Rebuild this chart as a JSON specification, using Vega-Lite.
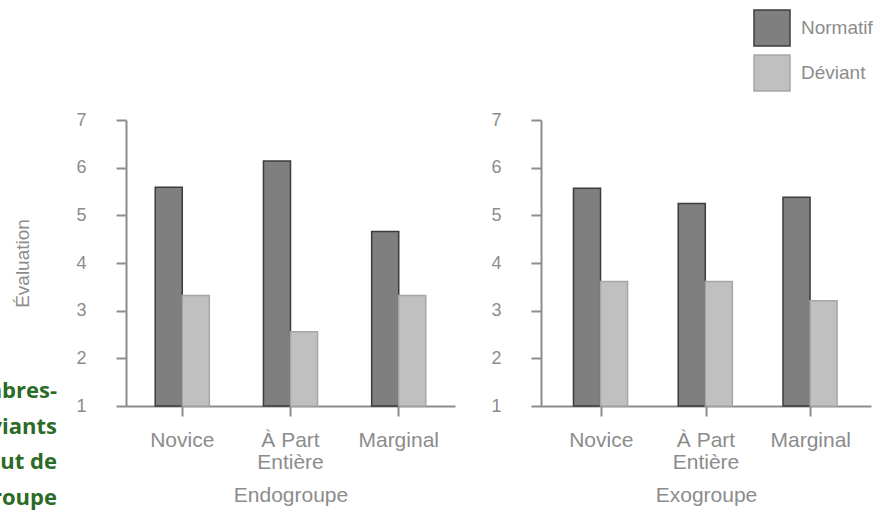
{
  "$schema": "https://vega.github.io/schema/vega-lite/v6.json",
  "autosize": "none",
  "padding": {"left": 126, "top": 120, "right": 755, "bottom": 392},
  "title": {
    "text": ["Membres-", "déviants", "au statut de", "groupe"],
    "orient": "top",
    "anchor": "start",
    "frame": "group",
    "align": "right",
    "baseline": "alphabetic",
    "offset": 0,
    "dx": -69,
    "dy": 518,
    "font": "Open Sans",
    "fontSize": 22,
    "fontWeight": "bold",
    "color": "#2b6b26",
    "lineHeight": 35.7
  },
  "data": {
    "values": [
      {"groupe": "Endogroupe", "statut": "Novice", "type": "Normatif", "evaluation": 5.59},
      {"groupe": "Endogroupe", "statut": "Novice", "type": "Déviant", "evaluation": 3.32},
      {"groupe": "Endogroupe", "statut": "À Part Entière", "type": "Normatif", "evaluation": 6.14},
      {"groupe": "Endogroupe", "statut": "À Part Entière", "type": "Déviant", "evaluation": 2.56},
      {"groupe": "Endogroupe", "statut": "Marginal", "type": "Normatif", "evaluation": 4.66},
      {"groupe": "Endogroupe", "statut": "Marginal", "type": "Déviant", "evaluation": 3.32},
      {"groupe": "Exogroupe", "statut": "Novice", "type": "Normatif", "evaluation": 5.57},
      {"groupe": "Exogroupe", "statut": "Novice", "type": "Déviant", "evaluation": 3.61},
      {"groupe": "Exogroupe", "statut": "À Part Entière", "type": "Normatif", "evaluation": 5.25},
      {"groupe": "Exogroupe", "statut": "À Part Entière", "type": "Déviant", "evaluation": 3.61},
      {"groupe": "Exogroupe", "statut": "Marginal", "type": "Normatif", "evaluation": 5.38},
      {"groupe": "Exogroupe", "statut": "Marginal", "type": "Déviant", "evaluation": 3.21}
    ]
  },
  "spacing": 35,
  "hconcat": [
    {
      "width": 329,
      "height": 286,
      "transform": [{"filter": "datum.groupe == 'Endogroupe'"}],
      "mark": {"type": "bar", "strokeWidth": 1.5},
      "encoding": {
        "x": {
          "field": "statut", "type": "nominal",
          "sort": ["Novice", "À Part Entière", "Marginal"],
          "scale": {"paddingInner": 0.5, "paddingOuter": 0.27},
          "title": "Endogroupe",
          "axis": {"labelAngle": 0, "labelExpr": "datum.value == 'À Part Entière' ? ['À Part', 'Entière'] : datum.value"}
        },
        "xOffset": {"field": "type", "type": "nominal", "sort": ["Normatif", "Déviant"], "scale": {"paddingInner": 0, "paddingOuter": 0}},
        "y": {
          "field": "evaluation", "type": "quantitative",
          "scale": {"domain": [1, 7], "zero": false, "nice": false},
          "title": "Évaluation",
          "axis": {"values": [1, 2, 3, 4, 5, 6, 7], "titlePadding": 43}
        },
        "y2": {"datum": 1},
        "color": {
          "field": "type", "type": "nominal", "sort": ["Normatif", "Déviant"],
          "scale": {"domain": ["Normatif", "Déviant"], "range": ["#7f7f7f", "#c0c0c0"]},
          "legend": {"orient": "none", "legendX": 627, "legendY": -111, "title": null}
        },
        "stroke": {
          "field": "type", "type": "nominal", "sort": ["Normatif", "Déviant"],
          "scale": {"domain": ["Normatif", "Déviant"], "range": ["#3c3c3c", "#a6a6a6"]},
          "legend": {"orient": "none", "legendX": 627, "legendY": -111, "title": null}
        }
      }
    },
    {
      "width": 330,
      "height": 286,
      "transform": [{"filter": "datum.groupe == 'Exogroupe'"}],
      "mark": {"type": "bar", "strokeWidth": 1.5},
      "encoding": {
        "x": {
          "field": "statut", "type": "nominal",
          "sort": ["Novice", "À Part Entière", "Marginal"],
          "scale": {"paddingInner": 0.47, "paddingOuter": 0.31},
          "title": "Exogroupe",
          "axis": {"labelAngle": 0, "labelExpr": "datum.value == 'À Part Entière' ? ['À Part', 'Entière'] : datum.value"}
        },
        "xOffset": {"field": "type", "type": "nominal", "sort": ["Normatif", "Déviant"], "scale": {"paddingInner": 0, "paddingOuter": 0}},
        "y": {
          "field": "evaluation", "type": "quantitative",
          "scale": {"domain": [1, 7], "zero": false, "nice": false},
          "title": null,
          "axis": {"values": [1, 2, 3, 4, 5, 6, 7]}
        },
        "y2": {"datum": 1},
        "color": {
          "field": "type", "type": "nominal", "sort": ["Normatif", "Déviant"],
          "scale": {"domain": ["Normatif", "Déviant"], "range": ["#7f7f7f", "#c0c0c0"]},
          "legend": {"orient": "none", "legendX": 627, "legendY": -111, "title": null}
        },
        "stroke": {
          "field": "type", "type": "nominal", "sort": ["Normatif", "Déviant"],
          "scale": {"domain": ["Normatif", "Déviant"], "range": ["#3c3c3c", "#a6a6a6"]},
          "legend": {"orient": "none", "legendX": 627, "legendY": -111, "title": null}
        }
      }
    }
  ],
  "config": {
    "font": "Liberation Sans",
    "view": {"stroke": null},
    "axis": {
      "domainColor": "#8c8c8c",
      "domainWidth": 2,
      "tickColor": "#8c8c8c",
      "tickWidth": 2,
      "tickSize": 10,
      "grid": false,
      "labelColor": "#8c8c8c",
      "labelFont": "Liberation Sans",
      "labelFontSize": 19,
      "titleColor": "#8c8c8c",
      "titleFont": "Liberation Sans",
      "titleFontSize": 19,
      "titleFontWeight": "normal"
    },
    "axisY": {"labelPadding": 30, "labelFontSize": 18},
    "axisX": {"labelPadding": 13, "titlePadding": 12, "labelLineHeight": 22, "labelFontSize": 21, "titleFontSize": 21},
    "legend": {
      "symbolType": "square",
      "symbolSize": 1296,
      "symbolStrokeWidth": 1.5,
      "labelFont": "Liberation Sans",
      "labelFontSize": 19,
      "labelColor": "#8c8c8c",
      "labelOffset": 10,
      "rowPadding": 3
    }
  }
}
